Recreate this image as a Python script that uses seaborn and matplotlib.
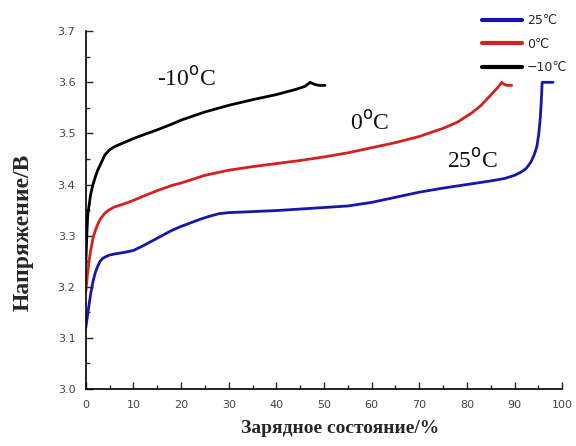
import matplotlib
matplotlib.use("Agg")
import matplotlib.pyplot as plt
from matplotlib.ticker import MultipleLocator
import seaborn as sns
import pandas as pd

# ---- data ----
x_25 = [0, 0.3, 0.6, 1, 1.5, 2, 2.5, 3, 3.5, 4, 5, 6, 8, 10, 12, 14, 16, 18, 20, 22, 24,
        26, 28, 30, 35, 40, 45, 50, 55, 60, 65, 70, 75, 80, 85, 88, 90, 91.5, 92.5, 93.5,
        94.2, 94.7, 95.1, 95.4, 95.6, 95.8, 96.5, 97.3, 98.1]
y_25 = [3.12, 3.14, 3.16, 3.185, 3.21, 3.228, 3.24, 3.25, 3.255, 3.258, 3.262, 3.264, 3.267,
        3.271, 3.28, 3.29, 3.30, 3.31, 3.318, 3.325, 3.332, 3.338, 3.343, 3.345, 3.347, 3.349,
        3.352, 3.355, 3.358, 3.365, 3.375, 3.385, 3.393, 3.40, 3.407, 3.412, 3.418, 3.425,
        3.432, 3.445, 3.46, 3.475, 3.50, 3.53, 3.56, 3.60, 3.60, 3.60, 3.60]

x_0 = [0, 0.3, 0.6, 1, 1.5, 2, 2.5, 3, 4, 5, 6, 8, 10, 12, 15, 18, 20, 25, 30, 35, 40, 45,
       50, 55, 60, 65, 70, 75, 78, 81, 83, 85, 86.5, 87.3, 87.8, 88.5, 89.4]
y_0 = [3.19, 3.22, 3.245, 3.27, 3.295, 3.31, 3.322, 3.332, 3.344, 3.351, 3.356, 3.362, 3.369,
       3.377, 3.388, 3.398, 3.403, 3.418, 3.428, 3.435, 3.441, 3.447, 3.454, 3.462, 3.472,
       3.482, 3.494, 3.51, 3.522, 3.54, 3.555, 3.575, 3.59, 3.60, 3.596, 3.594, 3.594]

x_m10 = [0, 0.2, 0.4, 0.7, 1, 1.5, 2, 2.5, 3, 3.5, 4, 5, 6, 8, 10, 12, 15, 18, 20, 25, 30,
         35, 40, 44, 46, 47.1, 48, 49, 50.2]
y_m10 = [3.245, 3.30, 3.34, 3.36, 3.38, 3.40, 3.415, 3.428, 3.438, 3.448, 3.458, 3.468, 3.474,
         3.482, 3.49, 3.497, 3.507, 3.518, 3.526, 3.542, 3.555, 3.566, 3.576, 3.586, 3.592,
         3.60, 3.596, 3.594, 3.594]

series_labels = ["25℃", "0℃", "−10℃"]
colors = ["#1616ae", "#d42020", "#000000"]

x_ticks = [0, 10, 20, 30, 40, 50, 60, 70, 80, 90, 100]
y_ticks = [3.0, 3.1, 3.2, 3.3, 3.4, 3.5, 3.6, 3.7]

frames = []
for lab, xs, ys in zip(series_labels, [x_25, x_0, x_m10], [y_25, y_0, y_m10]):
    frames.append(pd.DataFrame({"soc": xs, "v": ys, "series": lab}))
df = pd.concat(frames, ignore_index=True)

sns.set_theme(style="ticks")
plt.rcParams["font.family"] = ["DejaVu Sans"]

fig = plt.figure(figsize=(5.76, 4.46), dpi=100)
ax = fig.add_axes([0.149, 0.128, 0.827, 0.802])

sns.lineplot(data=df, x="soc", y="v", hue="series", hue_order=series_labels,
             palette=colors, estimator=None, sort=False, linewidth=2.0, ax=ax, legend=False)

ax.set_xlim(0, 100)
ax.set_ylim(3.0, 3.7)
ax.set_xticks(x_ticks)
ax.set_yticks(y_ticks)
ax.set_xticklabels([str(t) for t in x_ticks])
ax.set_yticklabels([f"{t:.1f}" for t in y_ticks])
ax.xaxis.set_minor_locator(MultipleLocator(5))
ax.yaxis.set_minor_locator(MultipleLocator(0.05))
ax.tick_params(which="major", direction="in", length=5, width=1, labelsize=8,
               labelcolor="#444444")
ax.tick_params(axis="x", which="major", pad=8)
ax.tick_params(axis="y", which="major", pad=7.5)
ax.tick_params(which="minor", direction="in", length=3, width=1)
for s in ["top", "right"]:
    ax.spines[s].set_visible(False)
for s in ["left", "bottom"]:
    ax.spines[s].set_linewidth(1.2)
    ax.spines[s].set_color("black")

ax.set_xlabel("Зарядное состояние/%", family="Liberation Serif", fontweight="bold",
              fontsize=14)
ax.set_ylabel("Напряжение/В", family="Liberation Serif", fontweight="bold",
              fontsize=17)
ax.xaxis.set_label_coords(0.534, -0.087)
ax.yaxis.set_label_coords(-0.11, 0.4385)

serif = dict(family="Liberation Serif", fontsize=17, ha="center", va="center", color="#111111")
ax.text(21.2, 3.606, "-10$^{\\rm o}$C", **serif)
ax.text(59.5, 3.52, "0$^{\\rm o}$C", **serif)
ax.text(81.1, 3.446, "25$^{\\rm o}$C", **serif)

handles = [plt.Line2D([], [], color=c, linewidth=3) for c in colors]
fig.legend(handles, series_labels, loc="upper left", bbox_to_anchor=(482 / 576, 1 - 14 / 446),
           bbox_transform=fig.transFigure, frameon=False, handlelength=3.2,
           handletextpad=0.4, labelspacing=0.85, borderpad=0, borderaxespad=0,
           prop={"family": ["DejaVu Sans"], "size": 9})

fig.savefig("out.png", dpi=100)
